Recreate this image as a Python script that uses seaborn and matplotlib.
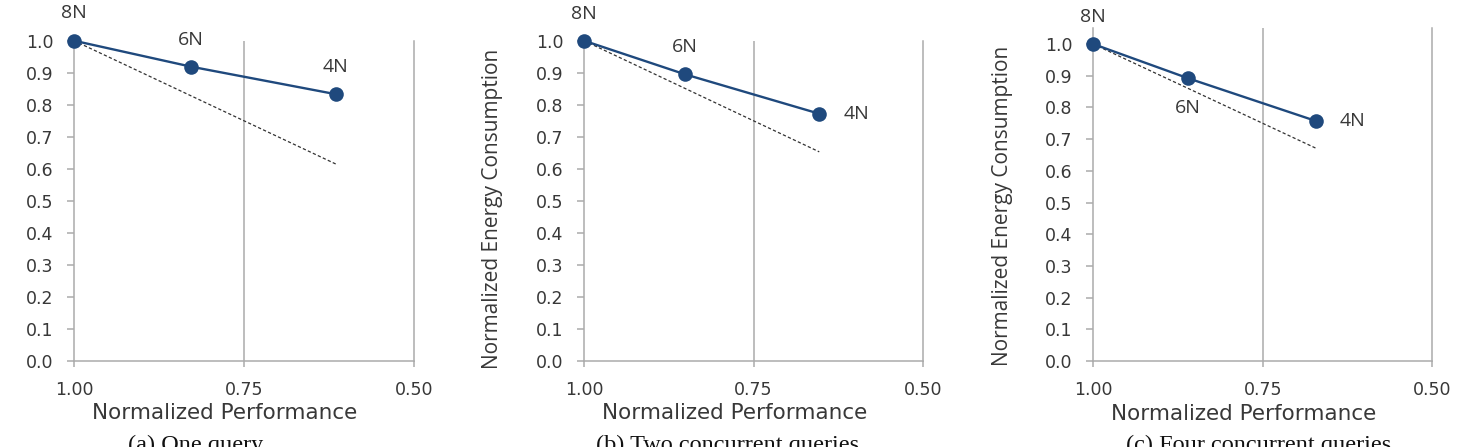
import matplotlib
matplotlib.use("Agg")
import matplotlib.pyplot as plt
import seaborn as sns

# ---- data ----
node_labels = ["8N", "6N", "4N"]

perf_one = [1.00, 0.828, 0.615]
energy_one = [1.00, 0.919, 0.833]
ideal_one_x = [1.00, 0.615]
ideal_one_y = [1.00, 0.615]

perf_two = [1.00, 0.851, 0.653]
energy_two = [1.00, 0.895, 0.772]
ideal_two_x = [1.00, 0.653]
ideal_two_y = [1.00, 0.653]

perf_four = [1.00, 0.860, 0.671]
energy_four = [1.00, 0.892, 0.757]
ideal_four_x = [1.00, 0.671]
ideal_four_y = [1.00, 0.671]

x_ticks = [1.00, 0.75, 0.50]
x_tick_labels = ["1.00", "0.75", "0.50"]
y_ticks = [0.0, 0.1, 0.2, 0.3, 0.4, 0.5, 0.6, 0.7, 0.8, 0.9, 1.0]
y_tick_labels = ["0.0", "0.1", "0.2", "0.3", "0.4", "0.5", "0.6", "0.7", "0.8", "0.9", "1.0"]

captions = ["(a) One query", "(b) Two concurrent queries", "(c) Four concurrent queries"]
x_label = "Normalized Performance"
y_label = "Normalized Energy Consumption"

# ---- style ----
sns.set_style("white")
plt.rcParams["font.family"] = ["DejaVu Sans"]

W, H = 1461, 447
fig = plt.figure(figsize=(W / 100, H / 100), dpi=100)

LINE_C = "#1F497D"
GRID_C = "#ABABAB"
TEXT_C = "#383838"

def px_rect(left, top, right, bottom):
    return [left / W, (H - bottom) / H, (right - left) / W, (bottom - top) / H]

panels = [
    dict(rect=px_rect(74, 40.7, 414, 361), ymax=1.0, perf=perf_one, energy=energy_one,
         ix=ideal_one_x, iy=ideal_one_y,
         offsets=[(0, 20), (0, 19.5), (0, 19.5)], ylab_y=0.476, cap_x=196),
    dict(rect=px_rect(584, 40.7, 923, 361), ymax=1.0, perf=perf_two, energy=energy_two,
         ix=ideal_two_x, iy=ideal_two_y,
         offsets=[(0, 19.5), (0, 19.5), (26.5, 0)], ylab_y=0.476, cap_x=728),
    dict(rect=px_rect(1093.3, 28.2, 1432, 361), ymax=1.05, perf=perf_four, energy=energy_four,
         ix=ideal_four_x, iy=ideal_four_y,
         offsets=[(0, 19.5), (0, -21.5), (26.5, 0)], ylab_y=0.467, cap_x=1259),
]

for p in panels:
    ax = fig.add_axes(p["rect"])
    # ideal (proportional) dashed line
    sns.lineplot(x=p["ix"], y=p["iy"], ax=ax, color="#333333", linewidth=0.9,
                 linestyle=(0, (2.6, 1.8)), sort=False, estimator=None, zorder=2)
    # measured
    sns.lineplot(x=p["perf"], y=p["energy"], ax=ax, color=LINE_C, linewidth=1.7,
                 marker="o", markersize=10.5, markeredgewidth=0, markerfacecolor=LINE_C,
                 sort=False, estimator=None, zorder=4, clip_on=False)

    ax.set_xlim(1.0, 0.5)
    ax.set_ylim(0.0, p["ymax"])
    ax.set_xticks(x_ticks)
    ax.set_xticklabels(x_tick_labels)
    ax.set_yticks(y_ticks)
    ax.set_yticklabels(y_tick_labels)

    ax.spines["top"].set_visible(False)
    for s in ["left", "bottom", "right"]:
        ax.spines[s].set_color(GRID_C)
        ax.spines[s].set_linewidth(1.1)
    ax.grid(False)
    ax.axvline(0.75, color=GRID_C, linewidth=1.1, zorder=1)

    ax.tick_params(axis="both", colors=GRID_C, labelcolor=TEXT_C, labelsize=12.5,
                   width=1.1, direction="out")
    ax.tick_params(axis="y", length=5, pad=10, left=True)
    ax.tick_params(axis="x", length=4.5, pad=10, bottom=True)

    ax.set_xlabel(x_label, fontsize=15.5, color=TEXT_C, va="top")
    ax.xaxis.set_label_coords(0.5 - 19 / 340, -0.13)
    ax.set_ylabel(y_label, fontsize=15, color=TEXT_C, family=["Open Sans", "DejaVu Sans"])
    ax.yaxis.set_label_coords(-81 / 340, p["ylab_y"])

    for lab, xv, yv, off in zip(node_labels, p["perf"], p["energy"], p["offsets"]):
        ax.annotate(lab, (xv, yv), xytext=off, textcoords="offset points",
                    ha="center", va="center", fontsize=14, color=TEXT_C,
                    family=["Open Sans", "DejaVu Sans"], annotation_clip=False)

for cap, p in zip(captions, panels):
    fig.text(p["cap_x"] / W, (H - 435) / H, cap, ha="center", va="top",
             fontsize=17.5, family=["Liberation Serif", "DejaVu Serif"], color="#111111")

fig.savefig("out.png", dpi=100)
